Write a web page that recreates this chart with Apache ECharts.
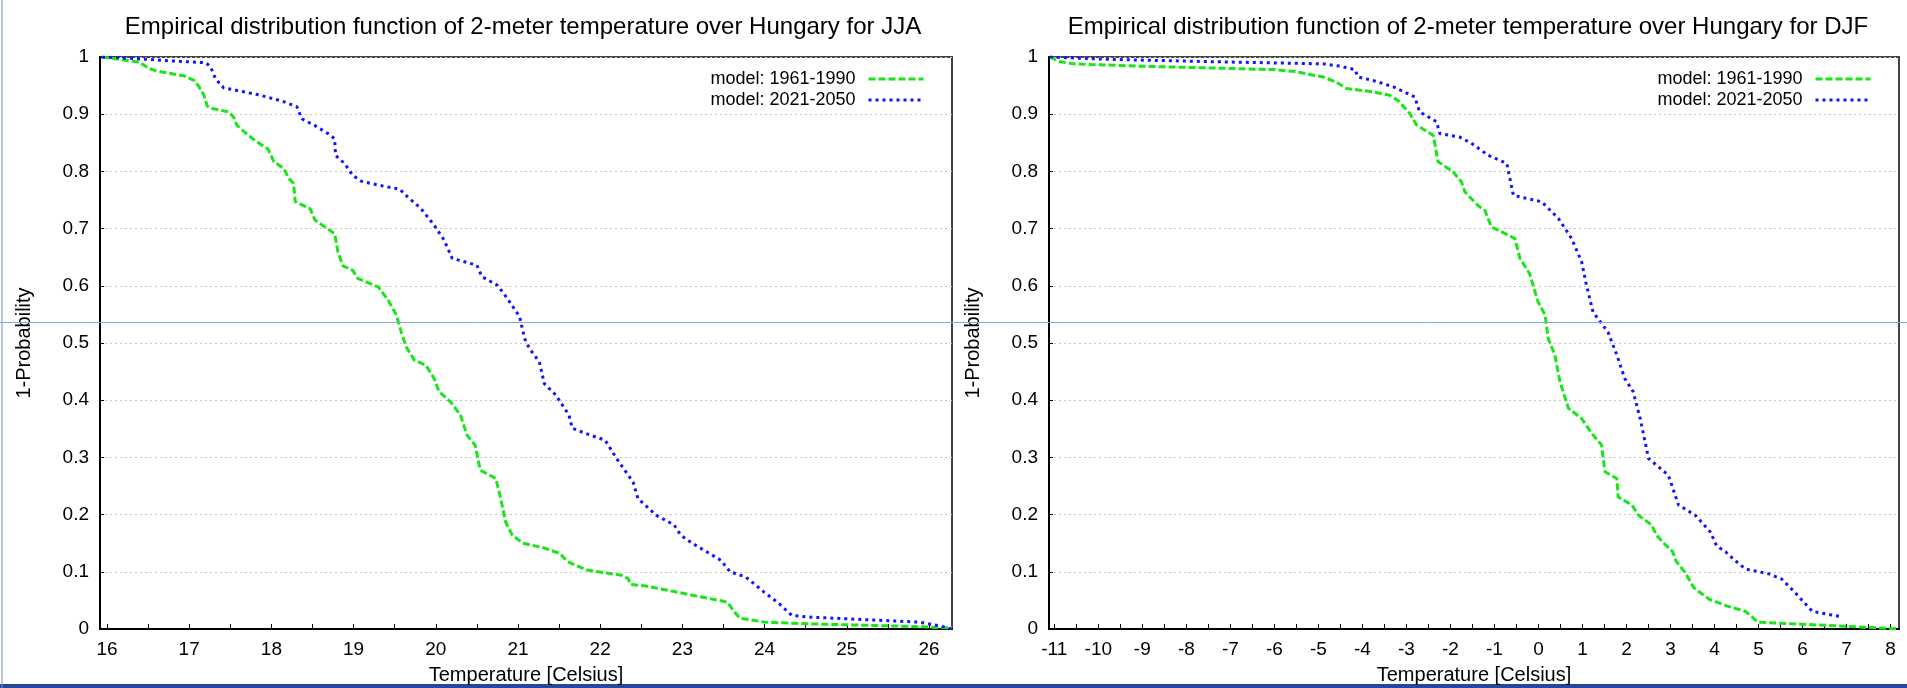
<!DOCTYPE html>
<html>
<head>
<meta charset="utf-8">
<title>Empirical distribution function of 2-meter temperature over Hungary</title>
<script src="https://cdn.jsdelivr.net/npm/echarts@6/dist/echarts.min.js"></script>
<style>
html, body { margin: 0; padding: 0; background: #fff; }
#main { width: 1907px; height: 688px; }
</style>
</head>
<body>
<div id="main"></div>
<script>
// series names
var names = ['model: 1961-1990', 'model: 2021-2050'];

// JJA, 1961-1990
var jjaOldT = [15.94, 16.39, 16.51, 16.62, 16.94, 17.06, 17.12, 17.18, 17.22, 17.28, 17.48, 17.54, 17.58, 17.68, 17.80, 17.96, 18.03, 18.15, 18.21, 18.27, 18.29, 18.47, 18.53, 18.65, 18.77, 18.81, 18.87, 18.99, 19.05, 19.30, 19.42, 19.52, 19.58, 19.64, 19.74, 19.88, 19.98, 20.04, 20.18, 20.30, 20.38, 20.48, 20.54, 20.73, 20.79, 20.85, 20.93, 21.06, 21.31, 21.51, 21.60, 21.84, 22.26, 22.34, 22.37, 22.56, 23.02, 23.55, 23.62, 23.70, 24.00, 24.53, 25.64, 26.28];
var jjaOldP = [1.0, 0.991, 0.980, 0.975, 0.967, 0.959, 0.948, 0.933, 0.914, 0.910, 0.904, 0.895, 0.881, 0.868, 0.854, 0.839, 0.817, 0.805, 0.788, 0.779, 0.747, 0.735, 0.715, 0.703, 0.691, 0.659, 0.635, 0.627, 0.613, 0.598, 0.575, 0.549, 0.519, 0.493, 0.470, 0.461, 0.438, 0.415, 0.397, 0.374, 0.339, 0.321, 0.278, 0.263, 0.228, 0.187, 0.164, 0.150, 0.142, 0.132, 0.118, 0.103, 0.094, 0.088, 0.078, 0.075, 0.062, 0.047, 0.032, 0.019, 0.012, 0.009, 0.005, 0.002];

// JJA, 2021-2050
var jjaNewT = [15.94, 16.27, 16.68, 17.20, 17.26, 17.32, 17.42, 17.60, 17.84, 18.13, 18.31, 18.37, 18.53, 18.69, 18.77, 18.78, 18.89, 18.99, 19.09, 19.30, 19.56, 19.66, 19.82, 19.98, 20.10, 20.20, 20.50, 20.56, 20.75, 20.87, 21.02, 21.08, 21.14, 21.26, 21.32, 21.46, 21.62, 21.66, 21.82, 22.06, 22.20, 22.40, 22.46, 22.68, 22.90, 22.98, 23.12, 23.33, 23.47, 23.58, 23.77, 23.99, 24.18, 24.33, 24.52, 25.28, 25.88, 26.12, 26.28];
var jjaNewP = [1.0, 0.998, 0.994, 0.990, 0.983, 0.962, 0.946, 0.941, 0.934, 0.923, 0.913, 0.892, 0.880, 0.866, 0.857, 0.828, 0.814, 0.793, 0.783, 0.776, 0.769, 0.755, 0.735, 0.706, 0.680, 0.648, 0.636, 0.616, 0.601, 0.578, 0.546, 0.508, 0.490, 0.467, 0.429, 0.409, 0.374, 0.351, 0.342, 0.330, 0.298, 0.257, 0.228, 0.199, 0.182, 0.164, 0.150, 0.132, 0.120, 0.100, 0.091, 0.065, 0.044, 0.024, 0.021, 0.016, 0.012, 0.006, 0.0];

// DJF, 1961-1990
var djfOldT = [-11.10, -10.88, -10.57, -9.06, -7.54, -6.03, -5.57, -4.89, -4.59, -4.36, -3.76, -3.38, -3.19, -2.92, -2.77, -2.39, -2.28, -1.94, -1.75, -1.67, -1.37, -1.22, -1.07, -0.54, -0.42, -0.20, -0.01, 0.15, 0.22, 0.37, 0.49, 0.68, 0.98, 1.21, 1.43, 1.51, 1.78, 1.81, 2.12, 2.27, 2.57, 2.68, 2.85, 3.05, 3.12, 3.33, 3.53, 3.88, 4.29, 4.70, 4.84, 4.98, 6.08, 7.46, 8.19];
var djfOldP = [1.0, 0.992, 0.988, 0.984, 0.981, 0.978, 0.975, 0.965, 0.956, 0.945, 0.939, 0.933, 0.924, 0.901, 0.881, 0.863, 0.817, 0.799, 0.782, 0.764, 0.740, 0.732, 0.703, 0.683, 0.648, 0.621, 0.572, 0.549, 0.508, 0.479, 0.432, 0.386, 0.368, 0.342, 0.322, 0.275, 0.263, 0.231, 0.217, 0.199, 0.182, 0.164, 0.150, 0.135, 0.119, 0.099, 0.072, 0.052, 0.040, 0.031, 0.022, 0.012, 0.008, 0.003, 0.0];

// DJF, 2021-2050
var djfNewT = [-11.10, -9.82, -7.54, -4.89, -4.51, -4.17, -4.10, -3.76, -3.30, -2.81, -2.70, -2.32, -2.24, -1.79, -1.52, -1.14, -0.72, -0.57, 0.07, 0.45, 0.75, 0.98, 1.09, 1.24, 1.58, 1.78, 1.96, 2.15, 2.31, 2.50, 2.95, 3.18, 3.56, 3.90, 4.05, 4.25, 4.43, 4.70, 5.25, 5.53, 5.80, 6.22, 6.63, 6.91];
var djfNewP = [1.0, 0.996, 0.992, 0.988, 0.984, 0.978, 0.965, 0.959, 0.948, 0.930, 0.904, 0.887, 0.866, 0.860, 0.849, 0.828, 0.814, 0.758, 0.747, 0.718, 0.683, 0.642, 0.601, 0.554, 0.519, 0.479, 0.438, 0.415, 0.368, 0.298, 0.269, 0.217, 0.199, 0.170, 0.145, 0.135, 0.122, 0.105, 0.096, 0.087, 0.066, 0.031, 0.025, 0.021];

// x tick labels
var jjaLabels = [16, 17, 18, 19, 20, 21, 22, 23, 24, 25, 26];
var djfLabels = [-11, -10, -9, -8, -7, -6, -5, -4, -3, -2, -1, 0, 1, 2, 3, 4, 5, 6, 7, 8];

var FONT = 'Liberation Sans, Arial, sans-serif';
var GREEN = '#19e619';
var BLUE = '#1414ff';

// pair temperature and probability arrays
function pairs (t, p) {
    return t.map(function (v, i) {
        return [v, p[i]];
    });
}

// major ticks plus the half-degree minor ones
function halfTicks (labels) {
    var out = [];
    labels.forEach(function (v, i) {
        out.push(v);
        if (i < labels.length - 1) out.push(v + 0.5);
    });
    return out;
}

function xAxisFor (index, min, max, labels) {
    return {
        type: 'value',
        gridIndex: index,
        min: min,
        max: max,
        name: 'Temperature [Celsius]',
        nameLocation: 'middle',
        nameGap: 36,
        nameTextStyle: { fontFamily: FONT, fontSize: 20, color: '#000' },
        axisLine: { onZero: false, lineStyle: { color: '#000', width: 2 } },
        axisTick: { inside: true, length: 5, customValues: halfTicks(labels), lineStyle: { color: '#000', width: 1 } },
        axisLabel: { customValues: labels, fontFamily: FONT, fontSize: 19, color: '#000', margin: 11 },
        splitLine: { show: false }
    };
}

function yAxisFor (index) {
    return {
        type: 'value',
        gridIndex: index,
        min: 0,
        max: 1,
        interval: 0.1,
        name: '1-Probability',
        nameLocation: 'middle',
        nameGap: 66,
        nameTextStyle: { fontFamily: FONT, fontSize: 20, color: '#000' },
        axisLine: { show: true, onZero: false, lineStyle: { color: '#000', width: 2 } },
        axisTick: { show: true, inside: true, length: 4, lineStyle: { color: '#000' } },
        axisLabel: {
            fontFamily: FONT, fontSize: 19, color: '#000', margin: 11,
            formatter: function (v) { return String(+v.toFixed(1)); }
        },
        splitLine: { show: true, lineStyle: { color: '#c4c4c4', type: [2, 3], width: 1 } }
    };
}

function lineSeries (name, idx, data, color, dash) {
    return {
        name: name,
        type: 'line',
        xAxisIndex: idx,
        yAxisIndex: idx,
        data: data,
        showSymbol: false,
        symbol: 'none',
        silent: true,
        animation: false,
        lineStyle: { color: color, width: 3, type: dash, cap: 'butt' },
        itemStyle: { color: color },
        z: 3
    };
}

function legendFor (right) {
    return {
        orient: 'vertical',
        right: right,
        top: 65,
        align: 'right',
        itemWidth: 55,
        itemHeight: 10,
        itemGap: 3,
        itemStyle: { opacity: 0, borderWidth: 0 },
        lineStyle: { width: 3 },
        textStyle: { fontFamily: FONT, fontSize: 18, color: '#000', padding: [0, 8, 0, 0] },
        data: names
    };
}

function initCharts () {
    var chart = echarts.init(document.getElementById('main'));
    var option = {
        backgroundColor: '#fff',
        animation: false,
        title: [
            { text: 'Empirical distribution function of 2-meter temperature over Hungary for JJA', left: 518, top: 10, textAlign: 'center',
              textStyle: { fontFamily: FONT, fontSize: 24, fontWeight: 'normal', color: '#000' } },
            { text: 'Empirical distribution function of 2-meter temperature over Hungary for DJF', left: 1463, top: 10, textAlign: 'center',
              textStyle: { fontFamily: FONT, fontSize: 24, fontWeight: 'normal', color: '#000' } }
        ],
        legend: [legendFor(977), legendFor(30)],
        grid: [
            { left: 100, top: 57, width: 852, height: 572, outerBoundsMode: 'none', show: true, borderColor: '#444', borderWidth: 2, backgroundColor: 'transparent' },
            { left: 1049, top: 57, width: 850, height: 572, outerBoundsMode: 'none', show: true, borderColor: '#444', borderWidth: 2, backgroundColor: 'transparent' }
        ],
        xAxis: [xAxisFor(0, 15.915, 26.28, jjaLabels), xAxisFor(1, -11.12, 8.19, djfLabels)],
        yAxis: [yAxisFor(0), yAxisFor(1)],
        series: [
            lineSeries(names[0], 0, pairs(jjaOldT, jjaOldP), GREEN, [7, 3]),
            lineSeries(names[1], 0, pairs(jjaNewT, jjaNewP), BLUE, [3, 4]),
            lineSeries(names[0], 1, pairs(djfOldT, djfOldP), GREEN, [7, 3]),
            lineSeries(names[1], 1, pairs(djfNewT, djfNewP), BLUE, [3, 4])
        ],
        // screenshot frame remnants
        graphic: [
            { type: 'line', shape: { x1: 2, y1: 0, x2: 2, y2: 688 }, style: { stroke: '#6f8cc8', lineWidth: 1 }, silent: true },
            { type: 'line', shape: { x1: 0, y1: 322.5, x2: 1907, y2: 322.5 }, style: { stroke: '#86a6e0', lineWidth: 1 }, silent: true, z: 10 },
            { type: 'rect', shape: { x: 0, y: 684, width: 1907, height: 4 }, style: { fill: '#27479a' }, silent: true, z: -1 }
        ]
    };
    chart.setOption(option);
    window.onresize = function () {
        chart.resize();
    };
    return chart;
}

initCharts();
</script>
</body>
</html>
